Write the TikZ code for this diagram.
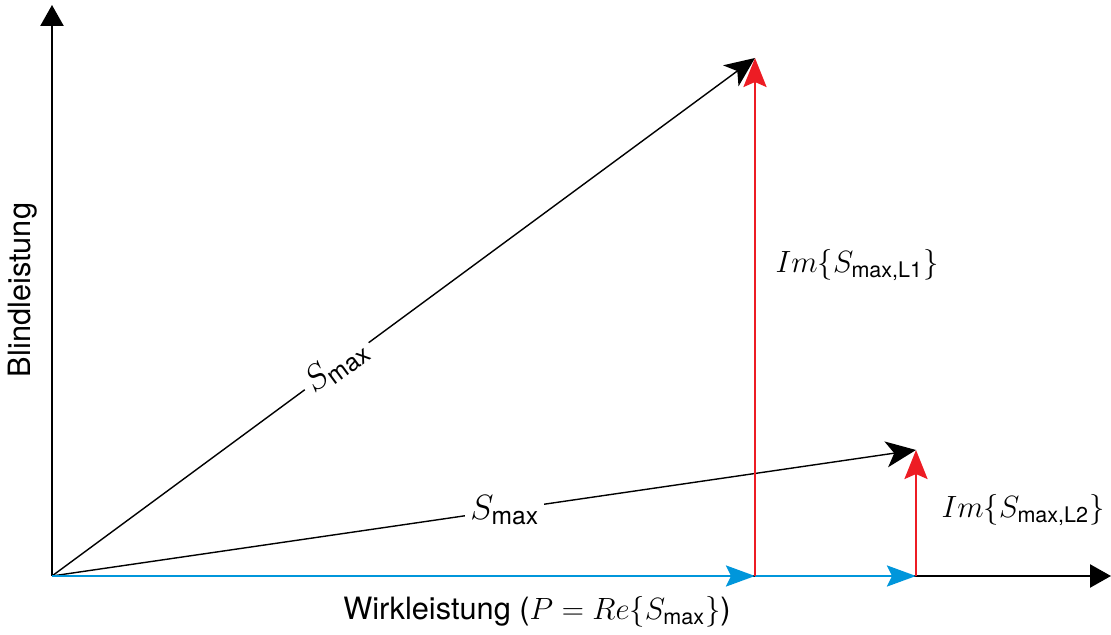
\documentclass[tikz,border=0pt]{standalone}
\usepackage{fix-cm}
\usepackage{amsmath}
\usepackage{fontspec}
\setmainfont{TeX Gyre Heros}
\usepackage{tikz}
\usetikzlibrary{positioning, arrows.meta, calc}
\definecolor{ptred}{RGB}{237, 28, 36}
\definecolor{ptblue}{RGB}{0, 150, 219}

\begin{document}
\begin{tikzpicture}[font=\fontsize{17.5}{20}\selectfont,
      axis/.style={line width=1.4pt, -{Triangle[length=0.42cm, width=0.46cm]}},
      vec/.style={line width=0.8pt, -{Stealth[length=0.6cm, width=0.52cm, inset=0.16cm]}},
      imv/.style={line width=1.4pt, ptred, -{Stealth[length=0.58cm, width=0.46cm, inset=0.1cm]}},
      rev/.style={line width=1.4pt, ptblue, -{Stealth[length=0.58cm, width=0.42cm, inset=0.1cm]}},
      lbl/.style={fill=white, inner sep=3pt, font=\fontsize{20}{22}\selectfont}]
    \useasboundingbox (0,0) rectangle (22.22,12.7);
    % points
    \coordinate (O)   at (1.04,1.18);
    \coordinate (yax) at (1.04,12.6);
    \coordinate (xax) at (22.22,1.18);
    \coordinate (p1)  at (15.1,1.18);
    \coordinate (s1)  at (15.1,11.54);
    \coordinate (p2)  at (18.32,1.18);
    \coordinate (s2)  at (18.32,3.7);
    % axes
    \draw[axis] (O) -- (yax);
    \draw[axis] (O) -- (xax);
    % apparent power
    \draw[vec] (O) -- node[lbl, sloped, pos=0.405] (smax1) {$S_{\text{max}}$} (s1);
    \draw[vec] (O) -- node[lbl, pos=0.524] (smax2) {$S_{\text{max}}$} (s2);
    % real part
    \draw[rev] (O) -- (p1);
    \draw[rev] (p1) -- (p2);
    % imaginary parts
    \draw[imv] (p1) -- (s1);
    \draw[imv] (p2) -- (s2);
    % labels
    \node (im1) at (17.14,7.4) {$Im\{S_{\text{max,L1}}\}$};
    \node (im2) at (20.46,2.5) {$Im\{S_{\text{max,L2}}\}$};
    \node (wl) at (10.74,0.46) {Wirkleistung ($P = Re\{S_{\text{max}}\}$)};
    \node[rotate=90] (bl) at (0.46,6.9) {Blindleistung};
  \end{tikzpicture}
\end{document}
